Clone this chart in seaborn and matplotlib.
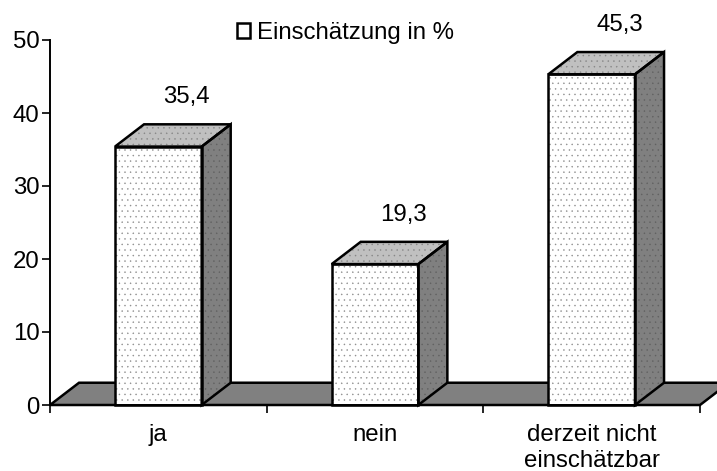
import matplotlib
matplotlib.use("Agg")
import matplotlib.pyplot as plt
from matplotlib.patches import Polygon, Rectangle
import numpy as np
import seaborn as sns

# Datos
categorias = ["ja", "nein", "derzeit nicht\neinschätzbar"]
valores = [35.4, 19.3, 45.3]
etiquetas = ["35,4", "19,3", "45,3"]
serie = "Einschätzung in %"
ticks_y = [0, 10, 20, 30, 40, 50]

# Profundidad del efecto 3D (en unidades de datos)
DX = 0.134
DY = 3.05
NEGRO = "black"
LW = 1.8
FUENTE = 17.3

sns.set_theme(style="white")
plt.rcParams["font.family"] = ["Liberation Sans", "DejaVu Sans"]
plt.rcParams["hatch.linewidth"] = 0.3

fig = plt.figure(figsize=(7.17, 4.71), dpi=100)
ax = fig.add_axes([50 / 717, (471 - 405) / 471, 650 / 717, 365 / 471])

sns.barplot(x=categorias, y=valores, ax=ax, color="white", saturation=1, width=0.4,
            edgecolor="#8c8c8c", linewidth=0, hatch="...", label=serie, zorder=3)

ax.set_xlim(-0.5, 2.5)
ax.set_ylim(0, 50)

# Suelo
ax.add_patch(Polygon([(-0.5, 0), (-0.5 + DX, DY), (2.5 + DX, DY), (2.5, 0)],
                     facecolor="#808080", edgecolor=NEGRO, lw=LW, zorder=1, clip_on=False))

# Caras laterales y superiores a partir de las barras
for barra, etiqueta in zip(list(ax.patches), etiquetas):
    x0, w, h = barra.get_x(), barra.get_width(), barra.get_height()
    x1 = x0 + w
    lado = [(x1, 0), (x1 + DX, DY), (x1 + DX, h + DY), (x1, h)]
    tapa = [(x0, h), (x0 + DX, h + DY), (x1 + DX, h + DY), (x1, h)]
    ax.add_patch(Polygon(lado, facecolor="#808080", edgecolor="#606060", lw=0,
                         hatch="...", zorder=2, clip_on=False))
    ax.add_patch(Polygon(tapa, facecolor="#c0c0c0", edgecolor="#858585", lw=0,
                         hatch="...", zorder=2, clip_on=False))
    ax.add_patch(Polygon(lado, fill=False, edgecolor=NEGRO, lw=LW, zorder=4, clip_on=False))
    ax.add_patch(Polygon(tapa, fill=False, edgecolor=NEGRO, lw=LW, zorder=4, clip_on=False))
    ax.add_patch(Rectangle((x0, 0), w, h, fill=False, edgecolor=NEGRO, lw=LW, zorder=4, clip_on=False))
    ax.annotate(etiqueta, (x0 + w / 2, h), xytext=(20.5, 35.5), textcoords="offset points",
                ha="center", va="center", fontsize=FUENTE, color=NEGRO)

# Ejes
sns.despine(ax=ax)
for lado_eje in ["left", "bottom"]:
    ax.spines[lado_eje].set_linewidth(1.4)
    ax.spines[lado_eje].set_color(NEGRO)
    ax.spines[lado_eje].set_zorder(5)
ax.set_yticks(ticks_y)
ax.tick_params(axis="y", length=6, width=1.2, color=NEGRO, labelsize=FUENTE, labelcolor=NEGRO, pad=1.5, left=True)
ax.set_xticks(np.arange(-0.5, 3), minor=True)
ax.tick_params(axis="x", which="minor", length=6, width=1.2, color=NEGRO, bottom=True)
ax.tick_params(axis="x", which="major", length=0, labelsize=FUENTE, labelcolor=NEGRO, pad=14)
for t in ax.get_xticklabels():
    t.set_linespacing(1.2)

# Leyenda
leg = ax.legend(loc="center left", bbox_to_anchor=(237 / 717, (471 - 33) / 471),
                bbox_transform=fig.transFigure, frameon=False, fontsize=FUENTE,
                handlelength=0.54, handleheight=0.54, handletextpad=0.3,
                borderpad=0, borderaxespad=0, labelcolor=NEGRO)
for h in leg.get_patches():
    h.set_edgecolor(NEGRO)
    h.set_linewidth(LW)
    h.set_hatch("")

plt.savefig("out.png", dpi=100)
plt.close()
